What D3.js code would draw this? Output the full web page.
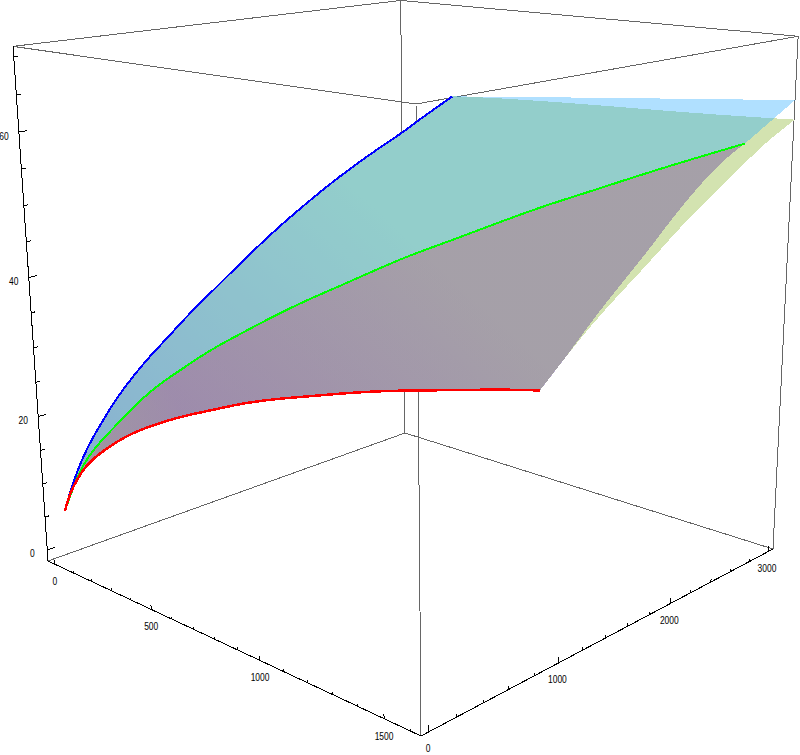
<!DOCTYPE html>
<html><head><meta charset="utf-8"><style>html,body{margin:0;background:#fff}svg{display:block}text{font:10px "Liberation Sans",sans-serif;fill:#000}</style>
<script src="https://cdn.jsdelivr.net/npm/d3@7"></script></head><body>
<svg id="c" width="800" height="755"></svg>
<script>
// values: [x, y, z]
const blueCurve=[[38,-8,6.6],[42,31,9.2],[47,80,11.7],[51,128,13.9],[59,199,16.5],[67,282,19],[75,363,21.4],[87,479,24.15],[98,595,26.55],[110,710,28.6],[122,826,30.9],[135,956,33.1],[162,1229,37.7],[186,1470,41.6],[211,1715,45.1],[236,1964,48.4],[261,2217,51.3],[285,2449,53.7],[295,2554,55.0],[308,2686,56.5],[324,2838,58.2]];
const greenCurve=[[20,14,6.2],[54,83,11.8],[77,130,14.1],[104,185,16.3],[142,261,18.7],[180,337,21.3],[217,412,23.4],[254,487,25.2],[291,560,26.7],[327,634,28.3],[364,708,29.7],[414,810,31.4],[486,955,33.8],[558,1101,36],[630,1245,37.9],[701,1389,39.9],[765,1518,41.6],[794,1576,42.3],[879,1748,44.2],[964,1920,46.2],[1071,2134,48.6],[1141,2276,49.9],[1310,2618,53.3],[1490,2980,56.5]];
const redCurve=[[-1,40,5.7],[23,53,8.6],[60,73,11.3],[95,92,13.4],[149,121,15.5],[215,156,17.7],[278,190,19.4],[341,224,20.8],[403,257,22],[464,290,23.1],[523,322,24],[583,354,24.9],[664,397,26.2],[778,458,27.6],[889,518,28.7],[997,576,29.8],[1103,633,30.8],[1207,689,31.6],[1309,744,32.3],[1407,797,33],[1506,849,33.7],[1601,901,34.2]];
const blueTopEdge=[[817,3019,59.7],[1638,3051,62.9]];
const yellowTopEdge=[[422,3003,58],[818,3019,58.8],[1220,3034,59.4],[1470,3044,59.9],[1641,3051,60.3]];
const yellowRightEdge=[[1602,1122,37.6],[1604,1307,40.3],[1606,1523,43],[1608,1717,45.3],[1609,1872,47.2],[1611,2131,50.5],[1614,2431,53.5],[1617,2771,57.4]];
const midRightEdge=[[1591,1081,36.3],[1584,1246,38.5],[1576,1400,40.6],[1567,1588,42.8],[1558,1781,45.1],[1552,1912,46.6],[1540,2165,49.9],[1523,2516,53.8],[1510,2792,55.9]];
const xDomain=[-38.5,1636.5], yDomain=[-57,3055], zDomain=[-1.69,71.37];
const xTicks=d3.range(0,1601,100), yTicks=d3.range(0,3001,200), zTicks=d3.range(0,71,5);
const xLabels=[0,500,1000,1500], yLabels=[0,1000,2000,3000], zLabels=[0,20,40,60];

// perspective camera fitted to the box corners
const O=[421,736],A=[48,561],B=[773,549],C=[416,104],p=.2387,q=.2452,r=-.095;
const ex=[0,1].map(i=>A[i]*(1+p)-O[i]),ey=[0,1].map(i=>B[i]*(1+q)-O[i]),ez=[0,1].map(i=>C[i]*(1+r)-O[i]);
const sx=d3.scaleLinear(xDomain,[1,0]),sy=d3.scaleLinear(yDomain,[0,1]),sz=d3.scaleLinear(zDomain,[0,1]);
function project([x,y,z]){const u=sx(x),v=sy(y),w=sz(z),d=1+u*p+v*q+w*r;
  return [(O[0]+u*ex[0]+v*ey[0]+w*ez[0])/d,(O[1]+u*ex[1]+v*ey[1]+w*ez[1])/d];}
const path=d3.line().x(d=>project(d)[0]).y(d=>project(d)[1]);
const smooth=d3.line().x(d=>project(d)[0]).y(d=>project(d)[1]).curve(d3.curveBasis);
const svg=d3.select('#c');
const rev=a=>a.slice().reverse();
const last=a=>a[a.length-1];
const ring=(...segs)=>segs.map((s,i)=>{const d=smooth(s);return i?'L'+d.slice(1):d;}).join('')+'Z';

const [x0,x1]=xDomain,[y0,y1]=yDomain,[z0,z1]=zDomain;
const grayEdges=[
 [[x0,y0,z0],[x0,y1,z0]],[[x0,y1,z0],[x1,y1,z0]],
 [[x0,y1,z0],[x0,y1,z1]],[[x1,y0,z0],[x1,y0,z1]],[[x1,y1,z0],[x1,y1,z1]],
 [[x0,y0,z1],[x0,y1,z1]],[[x0,y1,z1],[x1,y1,z1]],[[x1,y1,z1],[x1,y0,z1]],[[x1,y0,z1],[x0,y0,z1]]];
svg.append('g').selectAll('path').data(grayEdges).join('path').attr('d',path)
  .attr('fill','none').attr('stroke','#666').attr('stroke-width',1).attr('shape-rendering','crispEdges');

// shading that runs along the sheets
const g0=project(blueCurve[3]),g1=project(blueCurve[15]);
const defs=svg.append('defs');
const gradient=(id,c0,c1,a,b)=>{const lg=defs.append('linearGradient').attr('id',id).attr('gradientUnits','userSpaceOnUse')
  .attr('x1',a[0]).attr('y1',a[1]).attr('x2',b[0]).attr('y2',b[1]);
  lg.append('stop').attr('offset',0).attr('stop-color',c0);lg.append('stop').attr('offset',1).attr('stop-color',c1);};
gradient('sheet','rgb(195,185,183)','rgb(211,227,176)',g0,g1);
gradient('mid','rgb(95,85,125)','rgb(80,35,154)',project(redCurve[3]),project(redCurve[9]));

const surf=svg.append('g').attr('shape-rendering','crispEdges');
const blueEnd=last(blueCurve),greenEnd=last(greenCurve),redEnd=last(redCurve);
const yCorner=last(yellowTopEdge),bCorner=last(blueTopEdge);
surf.append('path').attr('d',ring(blueCurve,[blueEnd,...yellowTopEdge],[yCorner,...rev(yellowRightEdge),redEnd],rev(redCurve))).attr('fill','url(#sheet)');
surf.append('path').attr('d',ring(blueCurve,[blueEnd,...blueTopEdge],[bCorner,greenEnd],rev(greenCurve))).attr('fill','rgb(29,166,255)').attr('fill-opacity',.35);
surf.append('path').attr('d',ring(greenCurve,[greenEnd,...rev(midRightEdge),redEnd],rev(redCurve))).attr('fill','url(#mid)').attr('fill-opacity',.35);

[[blueCurve,'#0000ff',2],[greenCurve,'#00ff00',2],[redCurve,'#ff0000',2.5]].forEach(([d,c,w])=>
  svg.append('path').attr('d',smooth(d)).attr('fill','none').attr('stroke',c).attr('stroke-width',w).attr('shape-rendering','crispEdges'));

// axes
const ax=svg.append('g').attr('fill','none').attr('stroke','#000').attr('shape-rendering','crispEdges');
ax.append('path').attr('d',path([[x0,y0,z1],[x0,y0,z0],[x1,y0,z0],[x1,y1,z0]]));
const tick=(a,b)=>ax.append('path').attr('d',path([a,b]));
xTicks.forEach(t=>tick([t,y0,z0],[t,y0,z0+(t%500==0?.65:.35)]));
yTicks.forEach(t=>tick([x1,t,z0],[x1,t,z0+(t%1000==0?.85:.45)]));
zTicks.forEach(t=>tick([x0,y0,t],[x0,y0+(t%20==0?55:30),t]));
const lab=(pt,s,dx,dy)=>{const c=project(pt);svg.append('text').attr('x',c[0]+dx).attr('y',c[1]+dy).attr('text-anchor','middle').attr('dy','.35em')
  .attr('textLength',String(s).length*4.7).attr('lengthAdjust','spacingAndGlyphs').text(s);};
xLabels.forEach(t=>lab([t,y0,z0],t,0,17.5));
yLabels.forEach(t=>lab([x1,t,z0],t,-1,17));
zLabels.forEach(t=>lab([x0,y0,t],t,-15,4));
</script></body></html>
